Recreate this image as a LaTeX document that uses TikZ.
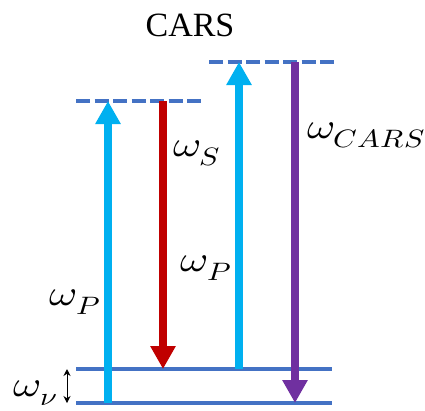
\documentclass[tikz,border=0pt]{standalone}
\usepackage{amsmath,amssymb}
\usepackage{fontspec}
\usepackage{unicode-math}
\setmainfont{Liberation Serif}
\setmathfont{Latin Modern Math}
\usepackage{xcolor}
\usepackage{tikz}
\usetikzlibrary{positioning,arrows.meta,calc}

\definecolor{levelblue}{HTML}{4472C4}
\definecolor{pumpcyan}{HTML}{00B0F0}
\definecolor{stokesred}{HTML}{C00000}
\definecolor{carspurple}{HTML}{7030A0}

\newcommand{\wlbl}[1]{\scalebox{1.2}[1]{$#1$}}

\begin{document}
\begin{tikzpicture}[
  x=1pt, y=-1pt,
  level/.style   ={draw=levelblue, line width=4pt},
  virt/.style    ={level, dash pattern=on 14pt off 4.5pt},
  beam/.style    ={line width=8pt, -{Triangle[width=24pt,length=23pt]}},
  pump/.style    ={beam, draw=pumpcyan},
  stokes/.style  ={beam, draw=stokesred},
  antis/.style   ={beam, draw=carspurple},
  lbl/.style     ={font=\fontsize{36}{40}\selectfont, inner sep=0pt},
]
\useasboundingbox (0,0) rectangle (425,410);

\def\yG{403}
\def\yV{369}
\def\yA{101}
\def\yB{62}

% ---------- LEVELS ----------
\coordinate (g0l) at (76,\yG);  \coordinate (g0r) at (332,\yG);
\coordinate (g1l) at (76,\yV);  \coordinate (g1r) at (332,\yV);
\coordinate (v1l) at (76,\yA);  \coordinate (v1r) at (203,\yA);
\coordinate (v2l) at (209,\yB); \coordinate (v2r) at (337,\yB);

\draw[level] (g0l) -- (g0r);
\draw[level] (g1l) -- (g1r);
\draw[virt]  (v1l) -- (v1r);
\draw[virt]  (v2l) -- (v2r);

% ---------- BEAMS ----------
\coordinate (p1a) at (108,\yG); \coordinate (p1b) at (108,\yA);
\coordinate (s1a) at (163,\yA); \coordinate (s1b) at (163,\yV);
\coordinate (p2a) at (239,\yV); \coordinate (p2b) at (239,\yB);
\coordinate (c1a) at (295,\yB); \coordinate (c1b) at (295,\yG);

\draw[pump]   (p1a) -- (p1b);
\draw[stokes] (s1a) -- (s1b);
\draw[pump]   (p2a) -- (p2b);
\draw[antis]  (c1a) -- (c1b);

% ---------- vibrational gap ----------
\coordinate (gapa) at (67,\yV);
\coordinate (gapb) at (67,\yG);
\draw[{Stealth[length=7pt,width=7pt]}-{Stealth[length=7pt,width=7pt]}, line width=1pt] (gapa) -- (gapb);

% ---------- LABELS ----------
\node[font=\fontsize{34}{38}\selectfont, inner sep=0pt] (title) at (190,25) {CARS};
\node[lbl] (ws)    at (197,153) {\wlbl{\omega_S}};
\node[lbl] (wcars) at (366,135) {\wlbl{\omega_{CARS}}};
\node[lbl] (wp2)   at (206,268) {\wlbl{\omega_P}};
\node[lbl] (wp1)   at (75,302)  {\wlbl{\omega_P}};
\node[lbl] (wv)    at (36,393)  {\wlbl{\omega_\nu}};

\end{tikzpicture}
\end{document}
